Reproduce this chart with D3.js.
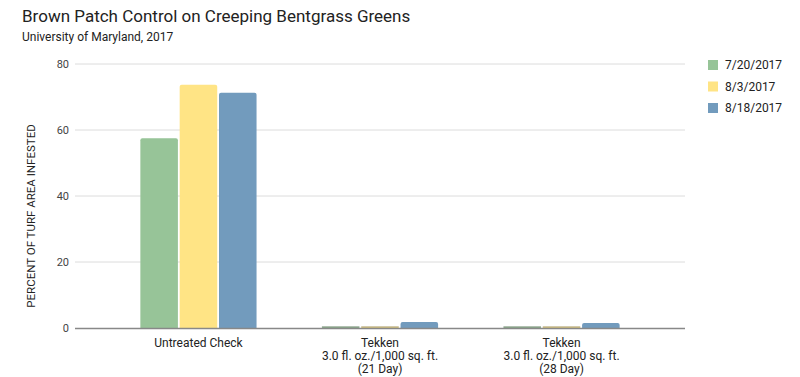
<!DOCTYPE html>
<html>
<head>
<meta charset="utf-8">
<script src="https://cdn.jsdelivr.net/npm/d3@7"></script>
<style>
  body { margin: 0; background: #fff; }
  text { font-family: Roboto, "Noto Sans", sans-serif; }
</style>
</head>
<body>
<svg id="mainsvg" width="800" height="377"></svg>
<script>
const categories = [
  ['Untreated Check'],
  ['Tekken', '3.0 fl. oz./1,000 sq. ft.', '(21 Day)'],
  ['Tekken', '3.0 fl. oz./1,000 sq. ft.', '(28 Day)']
];
const seriesNames = ['7/20/2017', '8/3/2017', '8/18/2017'];
const jul20 = [57.5, 0.2, 0.2];
const aug3 = [73.7, 0.2, 0.2];
const aug18 = [71.3, 1.8, 1.5];
const yTicks = [0, 20, 40, 60, 80];
const colors = ['#97c498', '#ffe485', '#729bbd'];

const svg = d3.select('#mainsvg');
const margin = { top: 64, right: 115, bottom: 49, left: 75 };
const width = +svg.attr('width');
const height = +svg.attr('height');
const innerWidth = width - margin.left - margin.right;
const innerHeight = height - margin.top - margin.bottom;

const series = [jul20, aug3, aug18];
const data = categories.map((c, i) => ({
  key: i, label: c, values: series.map((s, j) => ({ name: seriesNames[j], value: s[i], idx: j }))
}));

// title
svg.append('text').attr('x', 22).attr('y', 22)
  .attr('font-size', 17).attr('fill', '#222').text('Brown Patch Control on Creeping Bentgrass Greens');
svg.append('text').attr('x', 22).attr('y', 41)
  .attr('font-size', 12).attr('fill', '#222').text('University of Maryland, 2017');

const g = svg.append('g').attr('transform', `translate(${margin.left}, ${margin.top})`);

const yScale = d3.scaleLinear().domain([0, 80]).range([innerHeight, 0]);
const xScale = d3.scaleBand().domain(data.map(d => d.key)).range([0, innerWidth]).padding(0.36);
const xInner = d3.scaleBand().domain(d3.range(seriesNames.length)).range([0, xScale.bandwidth()]).paddingInner(0.045);

// gridlines
g.selectAll('.grid').data(yTicks.filter(t => t > 0)).join('line').attr('class', 'grid')
  .attr('x1', 0).attr('x2', innerWidth)
  .attr('y1', d => yScale(d)).attr('y2', d => yScale(d))
  .attr('stroke', '#dcdcdc').attr('stroke-width', 1);

g.selectAll('.ytick').data(yTicks).join('text').attr('class', 'ytick')
  .attr('x', -6).attr('y', d => yScale(d)).attr('dy', '0.35em')
  .attr('text-anchor', 'end').attr('font-size', 11).attr('fill', '#444')
  .text(d => d);

// bars
const groups = g.selectAll('.datagroup').data(data).join('g').attr('class', 'datagroup')
  .attr('transform', d => `translate(${xScale(d.key)}, 0)`);
groups.selectAll('.datarect').data(d => d.values).join('path').attr('class', 'datarect')
  .attr('fill', d => colors[d.idx])
  .attr('d', d => {
    const x = xInner(d.idx), w = xInner.bandwidth();
    const y = yScale(d.value), h = innerHeight - y;
    const r = Math.min(2, h);
    return `M${x},${innerHeight}V${y + r}Q${x},${y} ${x + r},${y}H${x + w - r}Q${x + w},${y} ${x + w},${y + r}V${innerHeight}Z`;
  });
groups.selectAll('.thin').data(d => d.values.filter(v => innerHeight - yScale(v.value) < 1.5)).join('line')
  .attr('class', 'thin')
  .attr('x1', d => xInner(d.idx)).attr('x2', d => xInner(d.idx) + xInner.bandwidth())
  .attr('y1', innerHeight - 1).attr('y2', innerHeight - 1)
  .attr('stroke', d => d3.color(colors[d.idx]).darker(1.2)).attr('stroke-width', 1);

// baseline
g.append('line').attr('x1', 0).attr('x2', innerWidth)
  .attr('y1', innerHeight + 0.5).attr('y2', innerHeight + 0.5)
  .attr('stroke', '#888').attr('stroke-width', 1.3);

// x labels
const xl = g.selectAll('.xlabel').data(data).join('text').attr('class', 'xlabel')
  .attr('text-anchor', 'middle').attr('font-size', 12).attr('fill', '#222')
  .attr('transform', d => `translate(${xScale(d.key) + xScale.bandwidth() / 2}, ${innerHeight + 19})`);
xl.selectAll('tspan').data(d => d.label).join('tspan')
  .attr('x', 0).attr('y', (d, i) => i * 13.2).text(d => d);

// y label
svg.append('text')
  .attr('transform', `translate(35, ${margin.top + innerHeight / 2 + 20}) rotate(-90)`)
  .attr('text-anchor', 'middle').attr('font-size', 11.5).attr('fill', '#222')
  .text('PERCENT OF TURF AREA INFESTED');

// legend
const legend = svg.append('g').attr('transform', 'translate(708, 60)');
const li = legend.selectAll('g').data(seriesNames).join('g')
  .attr('transform', (d, i) => `translate(0, ${i * 21.5})`);
li.append('rect').attr('width', 10).attr('height', 10).attr('fill', (d, i) => colors[i]);
li.append('text').attr('x', 17).attr('y', 5).attr('dy', '0.35em')
  .attr('font-size', 12).attr('fill', '#222').text(d => d);
</script>
</body>
</html>
